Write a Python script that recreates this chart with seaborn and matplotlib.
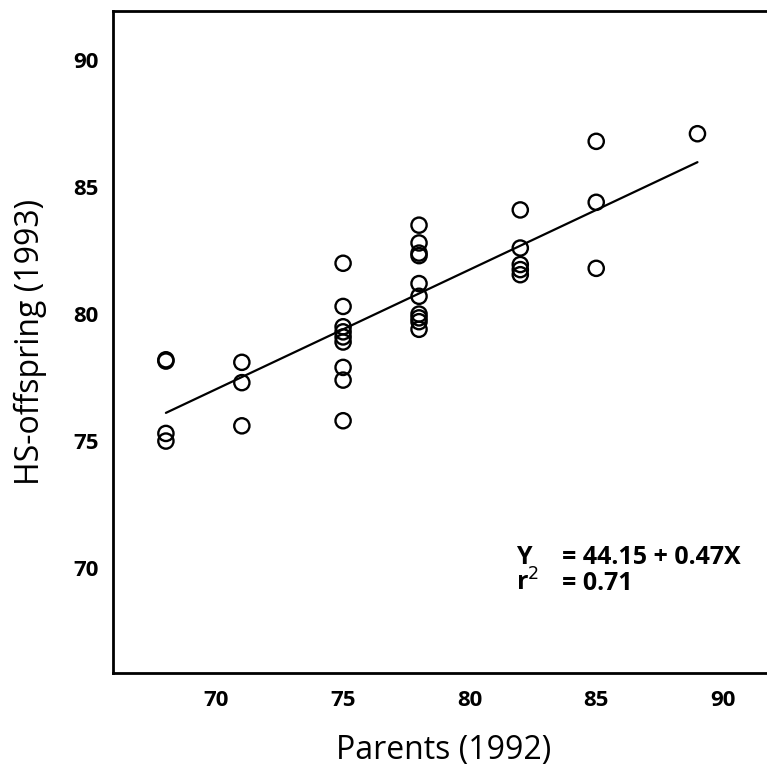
import numpy as np
import pandas as pd
import matplotlib
matplotlib.use("Agg")
import matplotlib.pyplot as plt
import seaborn as sns

# parent score (1992) and half-sib offspring score (1993)
parents = [68, 68, 68, 68,
           71, 71, 71,
           75, 75, 75, 75, 75, 75, 75, 75, 75,
           78, 78, 78, 78, 78, 78, 78, 78, 78, 78,
           82, 82, 82, 82, 82,
           85, 85, 85,
           89]
offspring = [78.2, 78.15, 75.3, 75.0,
             78.1, 77.3, 75.6,
             82.0, 80.3, 79.5, 79.3, 79.1, 78.9, 77.9, 77.4, 75.8,
             83.5, 82.8, 82.4, 82.3, 81.2, 80.7, 80.0, 79.85, 79.7, 79.4,
             84.1, 82.6, 81.95, 81.75, 81.55,
             86.8, 84.4, 81.8,
             87.1]

intercept = 44.15
slope = 0.47
r2 = 0.71
fit_x = np.array([68, 89])

df = pd.DataFrame({"parents": parents, "offspring": offspring})
fit = pd.DataFrame({"x": fit_x, "y": intercept + slope * fit_x})

sns.set_style("white", {"text.color": "black", "axes.labelcolor": "black",
                        "xtick.color": "black", "ytick.color": "black"})
plt.rcParams["font.family"] = ["Open Sans", "DejaVu Sans"]

fig = plt.figure(figsize=(7.67, 7.67), dpi=100)
ax = fig.add_axes([0.147, 0.1226, 0.863, 0.863])

sns.lineplot(data=fit, x="x", y="y", color="black", linewidth=1.6, ax=ax)
sns.scatterplot(data=df, x="parents", y="offspring", marker="o", s=120,
                facecolor="none", edgecolor="black", linewidth=1.7, ax=ax)

ax.set_xlim(65.9, 92.05)
ax.set_ylim(65.87, 91.93)
ax.set_xticks([70, 75, 80, 85, 90])
ax.set_yticks([70, 75, 80, 85, 90])
ax.tick_params(axis="both", length=0, labelsize=16, labelcolor="black")
ax.tick_params(axis="x", pad=12)
ax.tick_params(axis="y", pad=10)
for lab in ax.get_xticklabels() + ax.get_yticklabels():
    lab.set_fontweight("bold")

for side in ["left", "bottom", "top"]:
    ax.spines[side].set_color("black")
    ax.spines[side].set_linewidth(2)
ax.spines["right"].set_visible(False)

ax.set_xlabel("Parents (1992)", fontsize=23, labelpad=17, color="black")
ax.set_ylabel("HS-offspring (1993)", fontsize=23, labelpad=19, color="black")

ax.text(81.85, 70.43, "Y", fontsize=18, fontweight="bold", va="center", color="black")
ax.text(83.65, 70.43, f"= {intercept:.2f} + {slope:.2f}X", fontsize=18,
        fontweight="bold", va="center", color="black")
ax.text(81.85, 69.41, "r$^2$", fontsize=18, fontweight="bold", va="center", color="black")
ax.text(83.65, 69.41, f"= {r2:.2f}", fontsize=18, fontweight="bold", va="center",
        color="black")

fig.savefig("out.png", dpi=100)
